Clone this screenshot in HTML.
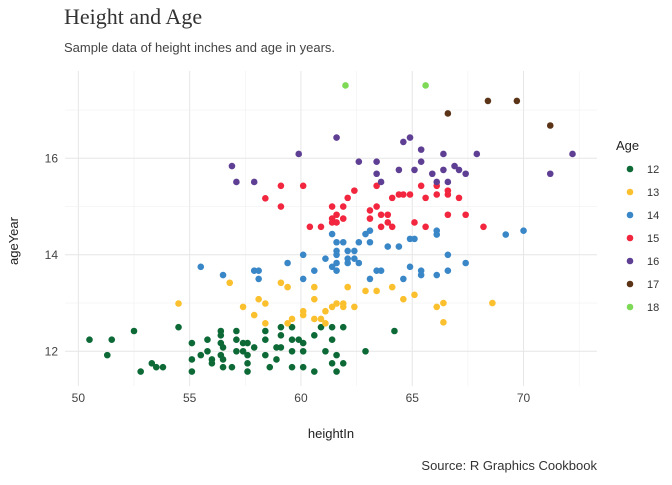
<!DOCTYPE html>
<html><head><meta charset="utf-8">
<style>
body{margin:0;background:#fff;width:672px;height:480px;overflow:hidden;font-family:"Liberation Sans",sans-serif;}
svg text{font-family:"Liberation Sans",sans-serif;}
</style></head>
<body>
<svg id="chart" width="672" height="480" xmlns="http://www.w3.org/2000/svg">
<text x="64" y="24" style="font-family:'Liberation Serif',serif" font-size="22" fill="#333">Height and Age</text>
<text x="64" y="52" font-size="13" fill="#444">Sample data of height inches and age in years.</text>
<g id="grid"></g>
<g id="points"></g>
<g id="axes"></g>
<text x="331" y="438" font-size="13" text-anchor="middle" fill="#222">heightIn</text>
<text transform="translate(18,241) rotate(-90)" font-size="13" text-anchor="middle" fill="#222">ageYear</text>
<g id="legend"></g>
<text x="597" y="470" font-size="13" text-anchor="end" fill="#333">Source: R Graphics Cookbook</text>
</svg>
<script>
const ageGroups=["12","13","14","15","16","17","18"];
const groupColors=["#0d6a37","#fbc02d","#3a87c8","#f2263e","#5e3f94","#5b3418","#7ed957"];
const xTicks=[50,55,60,65,70];
const yTicks=[12,14,16];
const h12=[50.5,51.5,52.5,51.3,52.8,53.3,53.5,53.8,54.5,55.1,55.1,55.1,55.5,55.8,55.8,56.0,56.0,56.4,56.4,56.4,56.4,56.5,56.5,56.5,56.9,57.1,57.1,57.1,57.4,57.4,57.6,57.6,57.6,57.6,57.9,58.4,58.4,58.4,58.6,58.9,58.9,59.1,59.1,59.1,59.6,59.6,59.6,59.6,59.9,60.1,60.1,60.1,60.6,60.6,60.9,61.1,61.4,61.4,61.4,61.6,61.6,61.9,61.9,62.9,64.2];
const a12=[12.24,12.24,12.42,11.92,11.58,11.75,11.67,11.67,12.5,12.17,11.83,11.58,11.92,12.24,12.0,11.83,11.75,12.42,12.33,12.17,11.92,12.08,11.83,11.67,11.67,12.42,12.24,12.0,12.17,12.0,12.17,11.92,11.75,11.58,12.08,12.42,12.24,11.92,11.67,11.83,12.08,12.08,12.5,12.33,12.5,12.24,12.0,11.67,12.24,12.17,12.0,11.67,12.33,11.58,12.5,12.0,12.5,12.24,11.75,11.92,11.58,12.5,11.75,12.0,12.42];
const h13=[54.5,56.8,57.4,57.9,58.1,58.4,58.4,59.1,59.4,59.4,59.6,60.1,60.1,60.6,60.6,60.6,60.9,61.1,61.1,61.4,61.6,61.9,61.9,62.1,62.4,62.9,63.4,64.1,64.6,65.1,66.1,66.4,68.6,66.4];
const a13=[12.99,13.42,12.92,12.75,13.08,12.99,12.58,13.42,13.33,12.58,12.67,12.83,12.75,13.33,13.08,12.67,12.67,12.83,12.58,12.92,12.99,12.99,12.92,13.33,12.92,13.25,13.25,13.33,13.08,13.17,12.92,13.0,13.0,12.6];
const h14=[61.4,61.6,61.9,62.6,62.9,63.1,63.1,61.6,61.6,62.1,62.4,61.1,61.6,62.1,62.1,62.4,62.6,61.4,61.6,60.6,60.1,59.4,60.1,63.1,63.4,63.6,63.9,64.4,64.9,65.1,64.6,64.9,65.4,65.4,66.1,66.1,66.1,66.6,66.6,67.4,69.2,70.0,56.5,57.9,58.1,58.1,55.5];
const a14=[14.43,14.26,14.26,14.26,14.43,14.5,14.26,14.08,14.0,14.08,14.08,13.92,13.83,13.92,13.83,13.92,13.83,13.75,13.67,13.67,14.0,13.83,13.5,13.5,13.67,13.67,14.17,14.17,14.33,14.33,13.5,13.75,13.67,13.58,14.5,14.42,13.58,14.0,13.67,13.83,14.42,14.5,13.58,13.67,13.67,13.5,13.75];
const h15=[59.1,60.1,59.1,62.4,62.1,61.4,61.9,61.6,61.4,61.4,61.6,61.9,60.4,60.9,63.4,63.4,63.1,63.1,63.6,63.9,63.9,63.6,64.1,64.1,64.4,64.6,64.9,65.4,66.1,66.1,66.6,66.6,65.6,67.1,65.1,65.6,66.6,67.4,68.2,58.4];
const a15=[15.43,15.43,15.0,15.33,15.18,15.0,15.0,14.83,14.75,14.67,14.67,14.75,14.58,14.58,15.43,15.0,14.92,14.75,14.83,14.83,14.67,14.58,14.58,15.18,15.25,15.25,15.25,15.43,15.43,15.25,15.33,15.25,15.18,15.18,14.67,14.58,14.83,14.83,14.58,15.17];
const h16=[56.9,57.1,57.9,59.9,61.6,62.6,63.4,63.4,63.6,64.4,64.6,64.9,65.1,65.4,65.4,65.9,66.1,66.4,66.4,66.6,66.9,67.1,67.4,67.9,71.2,72.2];
const a16=[15.84,15.51,15.51,16.09,16.43,15.93,15.93,15.68,15.51,15.76,16.34,16.43,15.76,16.18,15.93,15.68,15.51,16.09,15.76,15.51,15.84,15.76,15.68,16.09,15.68,16.09];
const h17=[66.6,68.4,69.7,71.2];
const a17=[16.93,17.19,17.19,16.68];
const h18=[62.0,65.6];
const a18=[17.51,17.51];
const heights=[h12,h13,h14,h15,h16,h17,h18];
const ages=[a12,a13,a14,a15,a16,a17,a18];

const NS="http://www.w3.org/2000/svg";
const P={l:65,r:597,t:71,b:386};
const xMin=49.4,xMax=73.3,yMin=11.28,yMax=17.81;
function xs(v){return P.l+(v-xMin)/(xMax-xMin)*(P.r-P.l);}
function ys(v){return P.b-(v-yMin)/(yMax-yMin)*(P.b-P.t);}
function mk(tag,attrs,parent){const e=document.createElementNS(NS,tag);for(const k in attrs)e.setAttribute(k,attrs[k]);parent.appendChild(e);return e;}
const grid=document.getElementById('grid'),axes=document.getElementById('axes'),pts=document.getElementById('points'),leg=document.getElementById('legend');
for(let i=0;i<xTicks.length;i++){
  const v=xTicks[i];
  const gl=mk('line',{x1:xs(v),x2:xs(v),y1:P.t,y2:P.b,stroke:'#e6e6e6','stroke-width':1},grid);
  
  
  const mv=v+2.5;
  if(mv<xMax){const ml=mk('line',{x1:xs(mv),x2:xs(mv),y1:P.t,y2:P.b,stroke:'#f0f0f0','stroke-width':0.6},grid);
  
  }
  const t=mk('text',{x:xs(v),y:402,'font-size':12,'text-anchor':'middle',fill:'#444'},axes);t.textContent=v;
  
  
}
for(let i=0;i<yTicks.length;i++){
  const v=yTicks[i];
  const gl=mk('line',{x1:P.l,x2:P.r,y1:ys(v),y2:ys(v),stroke:'#e6e6e6','stroke-width':1},grid);
  
  
  const mv=v+1;
  const ml=mk('line',{x1:P.l,x2:P.r,y1:ys(mv),y2:ys(mv),stroke:'#f0f0f0','stroke-width':0.6},grid);
  
  
  const t=mk('text',{x:58,y:ys(v)+4,'font-size':12,'text-anchor':'end',fill:'#444'},axes);t.textContent=v;
  
  
}
for(let g=0;g<ageGroups.length;g++){
  for(let i=0;i<heights[g].length;i++){
    const c=mk('circle',{cx:xs(heights[g][i]),cy:ys(ages[g][i]),r:3.3,fill:groupColors[g]},pts);
    
    
  }
}
const lt=mk('text',{x:616,y:150,'font-size':13,fill:'#222'},leg);lt.textContent='Age';


for(let g=0;g<ageGroups.length;g++){
  const y=169+g*23;
  const c=mk('circle',{cx:630,cy:y,r:3.3,fill:groupColors[g]},leg);
  
  
  const t=mk('text',{x:647,y:y+4,'font-size':11,fill:'#333'},leg);t.textContent=ageGroups[g];
  
  
}
</script>
</body></html>
